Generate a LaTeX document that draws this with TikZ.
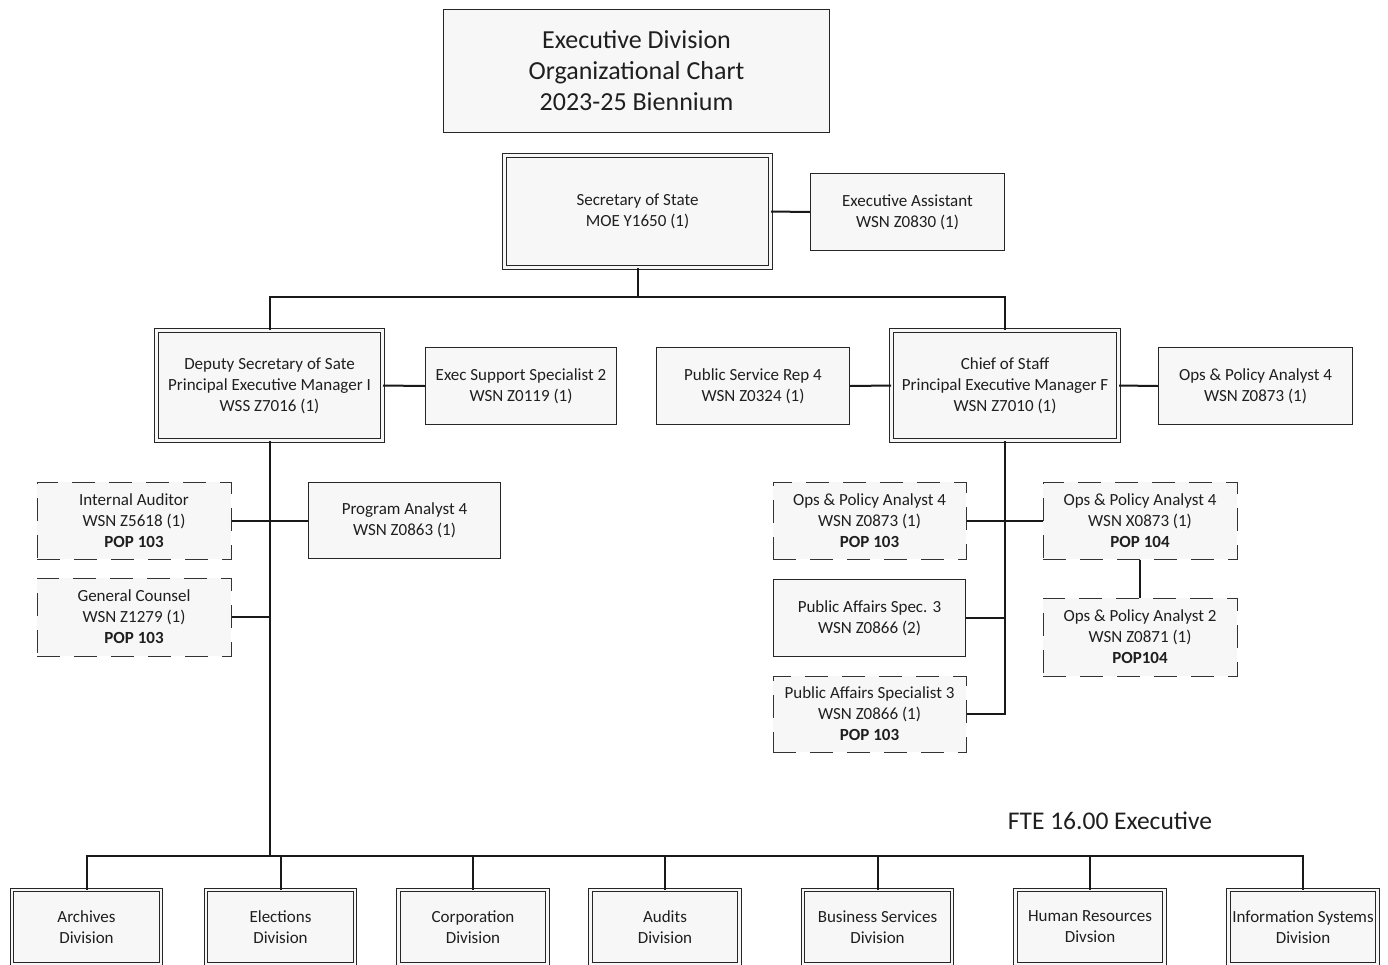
\documentclass[tikz,border=0pt]{standalone}
\usepackage{fontspec}
\setmainfont{Carlito}
\begin{document}
\begin{tikzpicture}[x=1pt,y=-1pt,
  box/.style={draw=black!85, line width=1.1pt, fill=black!3, rectangle, align=center,
    inner sep=0pt, text=black!88, font=\fontsize{17}{21}\selectfont},
  dblbox/.style={box, double=black!3, double distance=2.6pt, line width=1pt},
  dashbox/.style={box, draw=black!80, line width=1pt, dash pattern=on 23pt off 14pt},
  link/.style={draw=black!90, line width=2pt}]
\clip (0,0) rectangle (1388,964);
\fill[white] (0,0) rectangle (1388,964);

% title
\node[box, line width=1.3pt, minimum width=386pt, minimum height=123pt,
  font=\fontsize{26}{31}\selectfont] (title) at (636.5,71)
  {Executive Division\\Organizational Chart\\2023-25 Biennium};

% top level
\node[dblbox, minimum width=266pt, minimum height=112pt] (sec) at (637.5,211.5)
  {Secretary of State\\MOE Y1650 (1)};
\node[box, minimum width=194pt, minimum height=77pt] (ea) at (907.5,212)
  {Executive Assistant\\WSN Z0830 (1)};

% second level
\node[dblbox, minimum width=226pt, minimum height=110pt] (dep) at (269.5,385.5)
  {Deputy Secretary of Sate\\Principal Executive Manager I\\WSS Z7016 (1)};
\node[box, minimum width=191pt, minimum height=77pt] (ess) at (521,386)
  {Exec Support Specialist 2\\WSN Z0119 (1)};
\node[box, minimum width=193pt, minimum height=77pt] (psr) at (753,386)
  {Public Service Rep 4\\WSN Z0324 (1)};
\node[dblbox, minimum width=227pt, minimum height=110pt] (cos) at (1005,385.5)
  {Chief of Staff\\Principal Executive Manager F\\WSN Z7010 (1)};
\node[box, minimum width=194pt, minimum height=77pt] (opr) at (1255.5,386)
  {Ops \& Policy Analyst 4\\WSN Z0873 (1)};

% deputy's staff
\node[dashbox, minimum width=194pt, minimum height=77pt] (ia) at (134,520.5)
  {Internal Auditor\\WSN Z5618 (1)\\\textbf{POP 103}};
\node[box, minimum width=192pt, minimum height=76pt] (pa) at (404.5,520.5)
  {Program Analyst 4\\WSN Z0863 (1)};
\node[dashbox, minimum width=194pt, minimum height=78pt] (gc) at (134,617)
  {General Counsel\\WSN Z1279 (1)\\\textbf{POP 103}};

% chief of staff's staff
\node[dashbox, minimum width=193pt, minimum height=77pt] (opa) at (869.5,520.5)
  {Ops \& Policy Analyst 4\\WSN Z0873 (1)\\\textbf{POP 103}};
\node[dashbox, minimum width=194pt, minimum height=77pt] (opb) at (1140,520.5)
  {Ops \& Policy Analyst 4\\WSN X0873 (1)\\\textbf{POP 104}};
\node[dashbox, minimum width=194pt, minimum height=78pt] (op2) at (1140,637)
  {Ops \& Policy Analyst 2\\WSN Z0871 (1)\\\textbf{POP104}};
\node[box, minimum width=192pt, minimum height=77pt] (pas) at (869.5,618)
  {Public Affairs Spec. 3\\WSN Z0866 (2)};
\node[dashbox, minimum width=193pt, minimum height=76pt] (pasb) at (869.5,714)
  {Public Affairs Specialist 3\\WSN Z0866 (1)\\\textbf{POP 103}};

\node[font=\fontsize{25.5}{30}\selectfont, text=black!88] (fte) at (1110,821)
  {FTE 16.00 Executive};

% divisions
\foreach \nm/\cx/\txt in {arc/86.5/Archives\\Division, ele/280.5/Elections\\Division,
    cor/473/Corporation\\Division, aud/665/Audits\\Division,
    bus/877.5/Business Services\\Division, hr/1090/Human Resources\\Divsion,
    is/1303/Information Systems\\Division}
  \node[dblbox, minimum width=149pt, minimum height=74pt] (\nm) at (\cx,927) {\txt};

% connectors
\coordinate (topbus) at (637.5,297);
\coordinate (divbus) at (637.5,856);
\draw[link] (sec.south) -- (topbus);
\draw[link] (dep.north) |- (topbus) -| (cos.north);
\draw[link] (sec.east) -- (ea.west);
\draw[link] (dep.east) -- (ess.west);
\draw[link] (psr.east) -- (cos.west);
\draw[link] (cos.east) -- (opr.west);

\draw[link] (dep.south) -- (dep.south |- divbus);
\draw[link] (ia.east) -- (pa.west);
\draw[link] (gc.east) -- (gc.east -| dep.south);

\draw[link] (cos.south) |- (pasb.east);
\draw[link] (opa.east) -- (opb.west);
\draw[link] (pas.east) -- (pas.east -| cos.south);
\draw[link] (opb.south) -- (op2.north);

\draw[link] (arc.north) -- (arc.north |- divbus) -- (is.north |- divbus) -- (is.north);
\foreach \nm in {ele,cor,aud,bus,hr}
  \draw[link] (\nm.north) -- (\nm.north |- divbus);
\end{tikzpicture}
\end{document}
